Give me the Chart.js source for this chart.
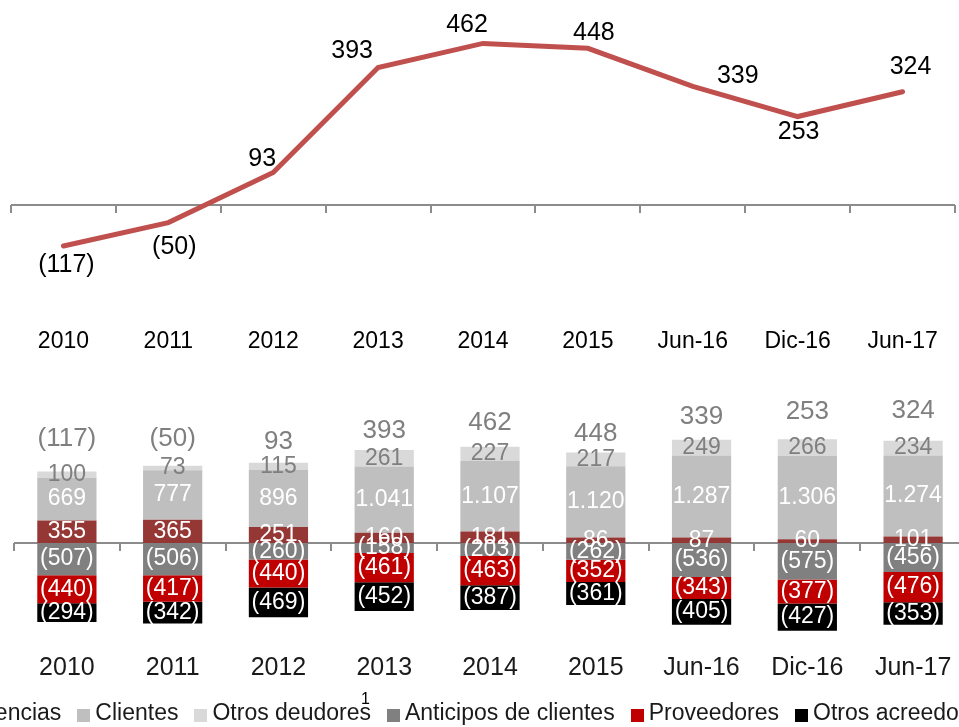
<!DOCTYPE html>
<html lang="es">
<head>
<meta charset="utf-8">
<script src="https://cdn.jsdelivr.net/npm/chart.js@4.4.1/dist/chart.umd.min.js"></script>
<style>
  html, body { margin: 0; padding: 0; background: #fff; overflow: hidden; }
  body { width: 959px; height: 727px; position: relative; font-family: "Liberation Sans", Arial, sans-serif; }
  #grafLinea { position: absolute; left: 0; top: 0; }
  #grafBarras { position: absolute; left: 0; top: 380px; }
  #leyenda { position: absolute; left: -73px; top: 699px; display: flex; align-items: center; white-space: nowrap; font-size: 23px; color: #1a1a1a; }
  #leyenda .item { display: flex; align-items: center; margin-right: 16px; }
  #leyenda .caja { width: 13px; height: 13px; margin-right: 5px; margin-top: 5px; }
  #leyenda .txt { position: relative; }
  #leyenda .nota { position: absolute; right: 1px; top: -9px; font-size: 16px; color: #000; }
</style>
</head>
<body>
<canvas id="grafLinea" width="959" height="365"></canvas>
<canvas id="grafBarras" width="980" height="315"></canvas>
<div id="leyenda"></div>

<script>
// Datos del gráfico
const periodos = ['2010', '2011', '2012', '2013', '2014', '2015', 'Jun-16', 'Dic-16', 'Jun-17'];
const capitalTrabajo = [-117, -50, 93, 393, 462, 448, 339, 253, 324];

const existencias = [355, 365, 251, 160, 181, 86, 87, 60, 101];
const clientes = [669, 777, 896, 1041, 1107, 1120, 1287, 1306, 1274];
const otrosDeudores = [100, 73, 115, 261, 227, 217, 249, 266, 234];
const anticiposClientes = [-507, -506, -260, -158, -203, -262, -536, -575, -456];
const proveedores = [-440, -417, -440, -461, -463, -352, -343, -377, -476];
const otrosAcreedores = [-294, -342, -469, -452, -387, -361, -405, -427, -353];

// Desplazamiento de las etiquetas de la línea (dx, dy)
const offsetsLinea = [[3, 19], [6, 25], [-11, -13], [-26, -16], [-16, -18], [6, -15], [45, -10], [1, 16], [8, -25]];
// Separación del total sobre la barra
const offsetsTotal = [33, 27, 21, 19, 24, 19, 23, 27, 30];

const FUENTE = '"Liberation Sans", Arial, sans-serif';

function formato(v) {
    const s = Math.abs(v).toString().replace(/\B(?=(\d{3})+(?!\d))/g, '.');
    return v < 0 ? '(' + s + ')' : s;
}

// Eje horizontal en el cero con marcas entre categorías
const ejeCero = {
    id: 'ejeCero',
    beforeDatasetsDraw(chart) {
        const ctx = chart.ctx;
        const area = chart.chartArea;
        const y = Math.round(chart.scales.y.getPixelForValue(0));
        const n = chart.data.labels.length;
        const paso = (area.right - area.left) / n;
        ctx.save();
        ctx.strokeStyle = '#8c8c8c';
        ctx.lineWidth = 2;
        ctx.beginPath();
        ctx.moveTo(area.left, y);
        ctx.lineTo(area.right, y);
        for (let i = 0; i <= n; i++) {
            const x = Math.round(area.left + i * paso);
            ctx.moveTo(x, y);
            ctx.lineTo(x, y + 8);
        }
        ctx.stroke();
        ctx.restore();
    }
};

// Etiquetas de la línea
const etiquetasLinea = {
    id: 'etiquetasLinea',
    afterDatasetsDraw(chart) {
        const ctx = chart.ctx;
        const meta = chart.getDatasetMeta(0);
        ctx.save();
        ctx.font = '25px ' + FUENTE;
        ctx.fillStyle = '#000';
        ctx.textAlign = 'center';
        ctx.textBaseline = 'middle';
        meta.data.forEach((p, i) => {
            const o = offsetsLinea[i];
            ctx.fillText(formato(chart.data.datasets[0].data[i]), p.x + o[0], p.y + o[1]);
        });
        ctx.restore();
    }
};

// Etiquetas dentro de las barras y totales
const etiquetasBarras = {
    id: 'etiquetasBarras',
    afterDatasetsDraw(chart) {
        const ctx = chart.ctx;
        ctx.save();
        ctx.textAlign = 'center';
        ctx.textBaseline = 'middle';
        ctx.font = '23px ' + FUENTE;
        chart.data.datasets.forEach((ds, d) => {
            const meta = chart.getDatasetMeta(d);
            ctx.fillStyle = ds.labelColor;
            meta.data.forEach((bar, i) => {
                ctx.fillText(formato(ds.data[i]), bar.x, (bar.y + bar.base) / 2);
            });
        });
        // Totales encima de la barra
        const metaTop = chart.getDatasetMeta(2);
        ctx.font = '26px ' + FUENTE;
        ctx.fillStyle = '#7f7f7f';
        metaTop.data.forEach((bar, i) => {
            ctx.fillText(formato(capitalTrabajo[i]), bar.x, bar.y - offsetsTotal[i]);
        });
        ctx.restore();
    }
};

// Gráfico superior: evolución
const grafLinea = new Chart(document.getElementById('grafLinea'), {
    type: 'line',
    data: {
        labels: periodos,
        datasets: [{
            data: capitalTrabajo,
            borderColor: '#c0504d',
            borderWidth: 5,
            borderCapStyle: 'round',
            borderJoinStyle: 'miter',
            pointRadius: 0,
            tension: 0,
            fill: false
        }]
    },
    options: {
        responsive: false,
        animation: false,
        layout: { padding: { left: 11, right: 4, top: 0, bottom: 0 } },
        plugins: { legend: { display: false }, tooltip: { enabled: false } },
        scales: {
            x: {
                offset: true,
                grid: { display: false, drawTicks: false },
                border: { display: false },
                ticks: { color: '#000', font: { family: FUENTE, size: 23 }, padding: 13, maxRotation: 0 },
                afterFit: s => { s.height = 50; }
            },
            y: { display: false, min: -314, max: 586 }
        }
    },
    plugins: [ejeCero, etiquetasLinea]
});

// Gráfico inferior: componentes
const grafBarras = new Chart(document.getElementById('grafBarras'), {
    type: 'bar',
    data: {
        labels: periodos,
        datasets: [
            { label: 'Existencias', data: existencias, backgroundColor: '#953735', labelColor: '#ffffff' },
            { label: 'Clientes', data: clientes, backgroundColor: '#bfbfbf', labelColor: '#ffffff' },
            { label: 'Otros deudores', data: otrosDeudores, backgroundColor: '#d9d9d9', labelColor: '#7f7f7f', nota: '1' },
            { label: 'Anticipos de clientes', data: anticiposClientes, backgroundColor: '#808080', labelColor: '#ffffff' },
            { label: 'Proveedores', data: proveedores, backgroundColor: '#c00000', labelColor: '#ffffff' },
            { label: 'Otros acreedores', data: otrosAcreedores, backgroundColor: '#000000', labelColor: '#ffffff' }
        ]
    },
    options: {
        responsive: false,
        animation: false,
        layout: { padding: { left: 14, right: 14, top: 0, bottom: 0 } },
        datasets: { bar: { categoryPercentage: 1, barPercentage: 0.56, borderWidth: 0 } },
        plugins: { legend: { display: false }, tooltip: { enabled: false } },
        scales: {
            x: {
                stacked: true,
                grid: { display: false, drawTicks: false },
                border: { display: false },
                ticks: { color: '#1a1a1a', font: { family: FUENTE, size: 25 }, padding: 8, maxRotation: 0 },
                afterFit: s => { s.height = 50; }
            },
            y: { display: false, stacked: true, min: -1604, max: 2563 }
        }
    },
    plugins: [ejeCero, etiquetasBarras]
});

// Leyenda en HTML a partir de los datasets
const leyenda = document.getElementById('leyenda');
grafBarras.data.datasets.forEach(ds => {
    const item = document.createElement('div');
    item.className = 'item';
    item.innerHTML = '<span class="caja" style="background:' + ds.backgroundColor + '"></span>' +
        '<span class="txt">' + ds.label + (ds.nota ? '<span class="nota">' + ds.nota + '</span>' : '') + '</span>';
    leyenda.appendChild(item);
});
</script>
</body>
</html>
